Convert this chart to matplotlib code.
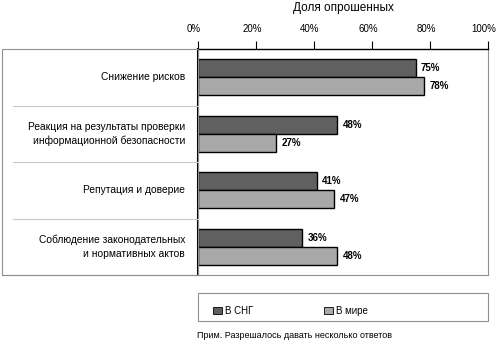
import matplotlib
matplotlib.use("Agg")
import matplotlib.pyplot as plt
from matplotlib.patches import Rectangle
from matplotlib.lines import Line2D
import matplotlib.transforms as mtransforms

plt.rcParams['font.family'] = ['Liberation Sans', 'DejaVu Sans']

categories = ["Снижение рисков",
              "Реакция на результаты проверки\nинформационной безопасности",
              "Репутация и доверие",
              "Соблюдение законодательных\nи нормативных актов"]
cis_values = [75, 48, 41, 36]
world_values = [78, 27, 47, 48]
series_names = ["В СНГ", "В мире"]
xticks = [0, 20, 40, 60, 80, 100]
xtick_labels = ["0%", "20%", "40%", "60%", "80%", "100%"]

W, H = 496, 344
fig = plt.figure(figsize=(W/100, H/100), dpi=100)
L, R, T, B = 198, 488, 49, 275
ax = fig.add_axes([L/W, 1-B/H, (R-L)/W, (B-T)/H])

dark = "#606060"
light = "#a9a9a9"
bh = 0.32
ys = list(range(len(categories)))
ax.barh([y - bh/2 for y in ys], cis_values, height=bh, color=dark, edgecolor="black", linewidth=1.0)
ax.barh([y + bh/2 for y in ys], world_values, height=bh, color=light, edgecolor="black", linewidth=1.0)
for y, v in zip(ys, cis_values):
    ax.text(v + 1.8, y - bh/2, f"{v}%", va="center", ha="left", fontsize=7, fontweight="bold")
for y, v in zip(ys, world_values):
    ax.text(v + 1.8, y + bh/2, f"{v}%", va="center", ha="left", fontsize=7, fontweight="bold")

ax.set_xlim(0, 100)
ax.set_ylim(len(categories) - 0.5, -0.5)
ax.xaxis.tick_top()
ax.set_xticks(xticks)
ax.set_xticklabels(xtick_labels, fontsize=7)
ax.tick_params(axis="x", direction="out", length=6, width=0.8, pad=5, colors="black")
shift = mtransforms.ScaledTranslation(-4/100, 0, fig.dpi_scale_trans)
for lbl in ax.get_xticklabels():
    lbl.set_transform(lbl.get_transform() + shift)
ax.set_yticks([])
ax.spines["left"].set_linewidth(1.5)
ax.spines["top"].set_linewidth(1.0)
ax.spines["right"].set_color("#909090")
ax.spines["right"].set_linewidth(0.8)
ax.spines["bottom"].set_visible(False)

# outer box on the left
fig.patches.append(Rectangle((2/W, 1-B/H), (L-2)/W, (B-T)/H, transform=fig.transFigure,
                             fill=False, edgecolor="#909090", linewidth=0.8))
fig.lines.append(Line2D([2/W, R/W], [1-B/H, 1-B/H], transform=fig.transFigure, color="#909090", linewidth=0.8))

# separators and category labels
trans = mtransforms.blended_transform_factory(fig.transFigure, ax.transData)
for b in [0.5, 1.5, 2.5]:
    fig.lines.append(Line2D([13/W, L/W], [b, b], transform=trans, color="#c8c8c8", linewidth=0.8))
for y, c in zip(ys, categories):
    fig.text(185/W, y, c, transform=trans, ha="right", va="center", fontsize=7.4, linespacing=1.45)

fig.text((L+R)/2/W, 1-8/H, "Доля опрошенных", ha="center", va="center", fontsize=8.5)

# legend box
fig.patches.append(Rectangle((L/W, 1-321/H), (R-L)/W, (321-293)/H, transform=fig.transFigure,
                             fill=False, edgecolor="#909090", linewidth=0.8))
leg_x = [213, 324]
for x, col, name in zip(leg_x, [dark, light], series_names):
    fig.patches.append(Rectangle((x/W, 1-314/H), 9/W, 7/H, transform=fig.transFigure,
                                 facecolor=col, edgecolor="black", linewidth=0.6))
    fig.text((x + 12)/W, 1-310.5/H, name, ha="left", va="center", fontsize=7)

fig.text(197/W, 1-336/H, "Прим. Разрешалось давать несколько ответов", ha="left", va="center", fontsize=6.5)

fig.savefig("out.png", dpi=100)
